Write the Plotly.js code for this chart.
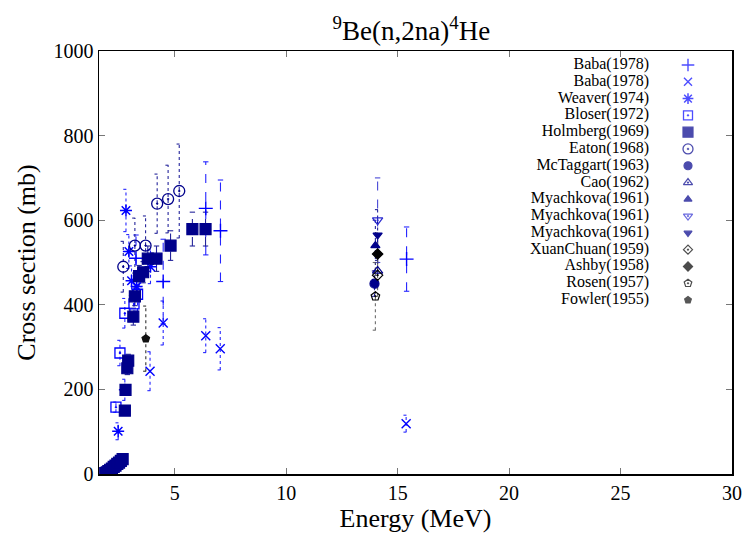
<!DOCTYPE html>
<html>
<head>
<meta charset="utf-8">
<script src="https://cdn.plot.ly/plotly-3.0.1.min.js"></script>
<style>html,body{margin:0;padding:0;background:#fff;}#chart{width:748px;height:537px;}</style>
</head>
<body>
<div id="chart"></div>
<script>
// ---- data ----
const names = ["Baba(1978)","Baba(1978)","Weaver(1974)","Bloser(1972)","Holmberg(1969)","Eaton(1968)",
  "McTaggart(1963)","Cao(1962)","Myachkova(1961)","Myachkova(1961)","Myachkova(1961)",
  "XuanChuan(1959)","Ashby(1958)","Rosen(1957)","Fowler(1955)"];

const babaP_E = [3.26, 4.48, 6.39, 7.05, 15.4];
const babaP_S = [510, 455, 628, 575, 508];
const babaP_D = [55, 100, 110, 120, 76];

const babaX_E = [3.89, 4.48, 6.39, 7.04, 15.38];
const babaX_S = [243, 357, 327, 296, 119];
const babaX_D = [46, 52, 40, 50, 20];

const weaver_E = [2.46, 2.76, 2.81, 2.94, 3.06, 3.29, 3.91];
const weaver_S = [101, 199, 623, 526, 457, 443, 490];
const weaver_D = [20, 25, 50, 40, 35, 35, 40];

const bloser_E = [2.36, 2.54, 2.76, 3.17, 3.33];
const bloser_S = [158, 286, 380, 402, 425];
const bloser_D = [12, 30, 35, 35, 40];

const holm_E = [1.88, 1.95, 2.02, 2.10, 2.18, 2.26, 2.34, 2.42, 2.50, 2.58, 2.66,
                2.76, 2.79, 2.87, 2.91, 3.14, 3.21, 3.40, 3.58, 3.79, 4.18, 4.81, 5.79, 6.38];
const holm_S = [2, 4, 7, 10, 13, 17, 20, 24, 27, 31, 35,
                150, 199, 250, 268, 372, 420, 468, 477, 509, 509, 540, 579, 579];
const holm_D = [1, 1, 1, 1, 1, 2, 2, 2, 2, 2, 3,
                10, 12, 15, 15, 20, 22, 25, 25, 30, 30, 35, 40, 40];

const eaton_E = [2.69, 3.21, 3.69, 4.21, 4.70, 5.20];
const eaton_S = [490, 540, 540, 639, 650, 669];
const eaton_D = [60, 65, 70, 70, 80, 111];

const mctag_E = [13.96];  const mctag_S = [450];  const mctag_D = [30];
const cao_E = [14.1];     const cao_S = [480];    const cao_D = [40];
const myaA_E = [14.0];    const myaA_S = [540];   const myaA_D = [60];
const myaB_E = [14.1];    const myaB_S = [600];   const myaB_D = [100];
const myaC_E = [14.1];    const myaC_S = [565];   const myaC_D = [60];
const xuan_E = [14.1];    const xuan_S = [470];   const xuan_D = [50];
const ashby_E = [14.1];   const ashby_S = [520];  const ashby_D = [50];
const rosen_E = [14.0];   const rosen_S = [420];  const rosen_D = [80];
const fowler_E = [3.7];   const fowler_S = [320]; const fowler_D = [77];

const xTicks = [5, 10, 15, 20, 25, 30];
const yTicks = [0, 200, 400, 600, 800, 1000];

// ---- styles ----
const BLUE = '#0000ff', NAVY = '#00008b', MID = '#2a2ad0', BLK = '#000000';
const series = [
  {E: babaP_E, S: babaP_S, D: babaP_D, sym: 'cross-thin-open', size: 10, color: BLUE, dash: 'dash', lw: 1.4},
  {E: babaX_E, S: babaX_S, D: babaX_D, sym: 'x-thin-open', size: 9, color: BLUE, dash: 'dot', lw: 1.4},
  {E: weaver_E, S: weaver_S, D: weaver_D, sym: 'asterisk-open', size: 10, color: BLUE, dash: 'dot', lw: 1.5},
  {E: bloser_E, S: bloser_S, D: bloser_D, sym: 'square-open-dot', size: 10, color: BLUE, dash: 'dot', lw: 1.3},
  {E: holm_E, S: holm_S, D: holm_D, sym: 'square', size: 11, color: NAVY, dash: 'dash', lw: 1.2},
  {E: eaton_E, S: eaton_S, D: eaton_D, sym: 'circle-open-dot', size: 11, color: NAVY, dash: 'dot', lw: 1.3},
  {E: mctag_E, S: mctag_S, D: mctag_D, sym: 'circle', size: 9, color: NAVY, dash: 'dot', lw: 1.2},
  {E: cao_E, S: cao_S, D: cao_D, sym: 'triangle-up-open-dot', size: 9, color: NAVY, dash: 'dot', lw: 1.2},
  {E: myaA_E, S: myaA_S, D: myaA_D, sym: 'triangle-up', size: 8, color: NAVY, dash: 'dot', lw: 1.2},
  {E: myaB_E, S: myaB_S, D: myaB_D, sym: 'triangle-down-open-dot', size: 9, color: MID, dash: 'dash', lw: 1.2},
  {E: myaC_E, S: myaC_S, D: myaC_D, sym: 'triangle-down', size: 8, color: NAVY, dash: 'dot', lw: 1.2},
  {E: xuan_E, S: xuan_S, D: xuan_D, sym: 'diamond-open-dot', size: 8, color: BLK, dash: 'dot', lw: 1.2},
  {E: ashby_E, S: ashby_S, D: ashby_D, sym: 'diamond', size: 8, color: BLK, dash: 'dot', lw: 1.2},
  {E: rosen_E, S: rosen_S, D: rosen_D, sym: 'pentagon-open-dot', size: 9, color: BLK, dash: 'dot', lw: 1.2},
  {E: fowler_E, S: fowler_S, D: fowler_D, sym: 'pentagon', size: 8, color: '#111111', dash: 'dot', lw: 1.2}
];

const CAP = 0.12; // half-width of error bar caps (MeV)
const traces = [];
series.forEach(s => {
  const ex = [], ey = [];
  s.E.forEach((e, i) => {
    const lo = s.S[i] - s.D[i], hi = s.S[i] + s.D[i];
    ex.push(e, e, null, e - CAP, e + CAP, null, e - CAP, e + CAP, null);
    ey.push(lo, hi, null, lo, lo, null, hi, hi, null);
  });
  traces.push({x: ex, y: ey, mode: 'lines', type: 'scatter', showlegend: false, hoverinfo: 'skip',
    line: {color: s.color === BLK ? '#555555' : s.color, width: 1.1, dash: s.dash}, opacity: 0.85});
});
series.forEach((s, k) => {
  traces.push({x: s.E, y: s.S, mode: 'markers', type: 'scatter', name: names[k], showlegend: false,
    marker: {symbol: s.sym, size: s.size, color: s.color, line: {color: s.color, width: s.lw}}});
});

// legend drawn on an overlay axis measured in pixels
const legY = names.map((n, i) => 65 + 16.79 * i);
traces.push({x: names.map(() => 649), y: legY, text: names, mode: 'text', textposition: 'middle left',
  xaxis: 'x2', yaxis: 'y2', showlegend: false, hoverinfo: 'skip',
  textfont: {family: 'Liberation Serif', size: 16, color: '#000'}});
traces.push({x: names.map(() => 688), y: legY, mode: 'markers', xaxis: 'x2', yaxis: 'y2', showlegend: false,
  hoverinfo: 'skip',
  marker: {symbol: series.map(s => s.sym), size: series.map(s => s.size - 1), color: series.map(s => s.color),
    line: {color: series.map(s => s.color), width: series.map(s => s.lw)}}});

const layout = {
  width: 748, height: 537,
  margin: {l: 99, r: 16, t: 51, b: 63},
  paper_bgcolor: '#fff', plot_bgcolor: '#fff',
  font: {family: 'Liberation Serif', color: '#000', size: 20},
  showlegend: false,
  title: {text: '<sup>9</sup>Be(n,2na)<sup>4</sup>He', font: {family: 'Liberation Serif', size: 27},
    x: 0.55, xanchor: 'center', y: 1 - 31 / 537, yanchor: 'middle', yref: 'container'},
  xaxis: {range: [1.6, 30], tickvals: xTicks, ticktext: xTicks.map(String), ticks: 'inside', ticklen: 6,
    tickcolor: '#777', tickwidth: 1.2, showline: true, linecolor: '#000', linewidth: 1.5, mirror: 'ticks',
    showgrid: false, zeroline: false, tickfont: {size: 20},
    title: {text: 'Energy (MeV)', font: {size: 26}, standoff: 6}},
  yaxis: {range: [0, 1000], tickvals: yTicks, ticktext: yTicks.map(String), ticks: 'inside', ticklen: 6,
    tickcolor: '#777', tickwidth: 1.2, showline: true, linecolor: '#000', linewidth: 1.5, mirror: 'ticks',
    showgrid: false, zeroline: false, tickfont: {size: 20},
    title: {text: 'Cross section (mb)', font: {size: 26}, standoff: 10}},
  xaxis2: {overlaying: 'x', anchor: 'y2', range: [99, 732], visible: false, fixedrange: true},
  yaxis2: {overlaying: 'y', anchor: 'x2', range: [474, 51], visible: false, fixedrange: true}
};

Plotly.newPlot('chart', traces, layout, {displayModeBar: false, staticPlot: true});
</script>
</body>
</html>
